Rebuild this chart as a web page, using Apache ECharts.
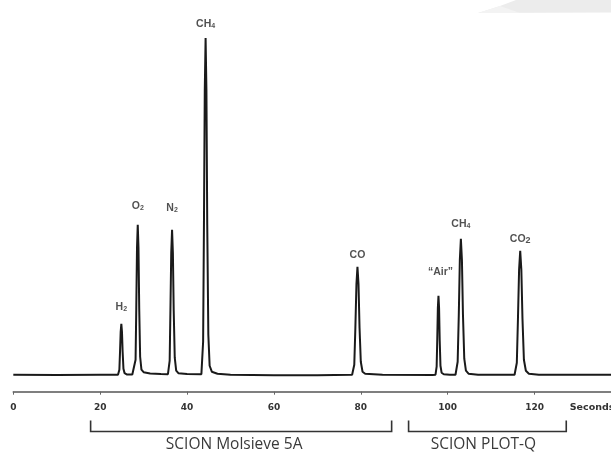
<!DOCTYPE html>
<html>
<head>
<meta charset="utf-8">
<script src="https://cdn.jsdelivr.net/npm/echarts@6/dist/echarts.min.js"></script>
<style>html,body{margin:0;padding:0;background:#fff;}#c{width:611px;height:459px;}</style>
</head>
<body>
<div id="c"></div>
<script>
// Retention time (seconds) and detector signal
const traceTime = [0,10,20,24.1,24.42,24.57,24.72,24.87,25.02,25.17,25.36,25.62,26.1,27.4,
  27.8,28.15,28.31,28.48,28.65,28.82,28.99,29.2,29.5,30.0,31.5,34,35.6,
  36.0,36.17,36.36,36.55,36.74,36.93,37.17,37.5,38,40,43.3,
  43.7,43.89,44.08,44.27,44.46,44.65,44.9,45.2,45.7,47,50,60,70,
  78.0,78.5,78.75,79.0,79.23,79.47,79.71,80.0,80.4,81,85,96.5,
  97.2,97.46,97.6,97.74,97.88,98.02,98.16,98.34,98.6,99.1,100.5,
  101.8,102.3,102.56,102.8,103.04,103.28,103.52,103.82,104.2,104.8,107,
  115.4,115.92,116.18,116.44,116.7,116.96,117.22,117.55,118,118.7,121,130,137.6];
const traceSignal = [0,-0.3,0,0,5,23,43,51,43,23,6,1.5,0.3,0.3,
  0.5,15,66,127,150,127,66,18,5,2.5,1.2,0.6,0.5,
  14,64,122,145,122,64,17,4,1.5,0.6,0.5,
  33,150,285,337,285,150,40,9,3,1,0,-0.5,-0.5,
  0,10,47,91,108,91,47,13,3,1,0,-0.3,
  0,8,35,67,79,67,35,9,2,0.5,0,
  0,13,60,115,136,115,60,16,4,1,0,
  0,12,56,105,124,105,56,15,4,1,0,0,0];

const peakNames   = ['H2','O2','N2','CH4','CO','\u201CAir\u201D','CH4','CO2'];
const peakTimes   = [24.87,28.65,36.55,44.27,79.23,97.88,103.04,116.7];
const peakHeights = [51,150,145,337,108,79,136,124];

const xTicks = [0,20,40,60,80,100,120];
const axisTitle = 'Seconds';

const columnNames = ['SCION Molsieve 5A','SCION PLOT-Q'];
const columnStart = [17.8,91.0];
const columnEnd   = [87.1,127.3];

// styling
const labelGap = [11,13,16,8,6,18,9,6];
function richName(n){
  const m = n.match(/^(.*?)(\d)$/);
  if (n === 'CO2') return '{m|CO}{b|2}';
  return m ? '{m|' + m[1] + '}{s|' + m[2] + '}' : '{m|' + n + '}';
}

const chart = echarts.init(document.getElementById('c'), null, {renderer:'canvas'});
const tracePts = traceTime.map((t,i)=>[t, traceSignal[i]]);
const labelPts = peakTimes.map((t,i)=>({
  value:[t, peakHeights[i]],
  label:{distance: labelGap[i], formatter: richName(peakNames[i]),
         offset: i===5 ? [2,0] : [0,0]}
}));

chart.setOption({
  animation:false,
  backgroundColor:'#ffffff',
  grid:{left:13.3, right:0, top:0, bottom:67.3, containLabel:false},
  xAxis:{
    type:'value', min:0, max:137.6, interval:20,
    axisLine:{show:true, onZero:false, lineStyle:{color:'#555', width:1.6}},
    axisTick:{show:true, length:3, lineStyle:{color:'#666', width:1}},
    axisLabel:{show:true, margin:11, color:'#333', fontFamily:'DejaVu Sans', fontWeight:'bold', fontSize:9,
      showMaxLabel:false,
      formatter:v=> xTicks.indexOf(v) >= 0 ? String(v) : ''},
    splitLine:{show:false}
  },
  yAxis:{type:'value', min:-17, max:375, show:false, splitLine:{show:false}},
  series:[
    {type:'line', data:tracePts, showSymbol:false, symbol:'none',
     lineStyle:{color:'#1a1a1a', width:2}, z:3},
    {type:'scatter', data:labelPts, symbolSize:0, silent:true, z:4,
     label:{show:true, position:'top', color:'#222',
       rich:{
         m:{fontFamily:'Liberation Sans', fontSize:10.5, fontWeight:'bold', color:'#262626'},
         s:{fontFamily:'Liberation Sans', fontSize:7, fontWeight:'bold', color:'#262626', padding:[5,0,0,0]},
         b:{fontFamily:'Liberation Sans', fontSize:9, fontWeight:'bold', color:'#262626', padding:[2,0,0,0]}
       }}}
  ]
});

function drawExtras(){
  const g = [];
  // grey decorative swoosh in top-right corner
  g.push({type:'polygon', shape:{points:[[478,13],[500,6],[516,0],[611,0],[611,12.5]]},
          style:{fill:'#ececec'}, z:-1});
  g.push({type:'polygon', shape:{points:[[478,13],[500,6],[520,13]]},
          style:{fill:'#f3f3f3'}, z:-1});
  // axis title
  g.push({type:'text', x: chart.convertToPixel({xAxisIndex:0}, 128.1), y:408,
          style:{text:axisTitle, fill:'#333', font:'bold 9.5px "DejaVu Sans"', verticalAlign:'middle', align:'left'}});
  // column brackets
  columnNames.forEach((name,i)=>{
    const x0 = chart.convertToPixel({xAxisIndex:0}, columnStart[i]);
    const x1 = chart.convertToPixel({xAxisIndex:0}, columnEnd[i]);
    g.push({type:'polyline', shape:{points:[[x0,420.5],[x0,431.5],[x1,431.5],[x1,420.5]]},
            style:{stroke:'#333', lineWidth:1.6, fill:null}});
    g.push({type:'text', x:(x0+x1)/2 - (i===0?7:4), y:445,
            style:{text:name, fill:'#3a3a3a', font:'15.5px "Open Sans"', align:'center', verticalAlign:'middle'}});
  });
  chart.setOption({graphic:g});
}
drawExtras();
</script>
</body>
</html>
